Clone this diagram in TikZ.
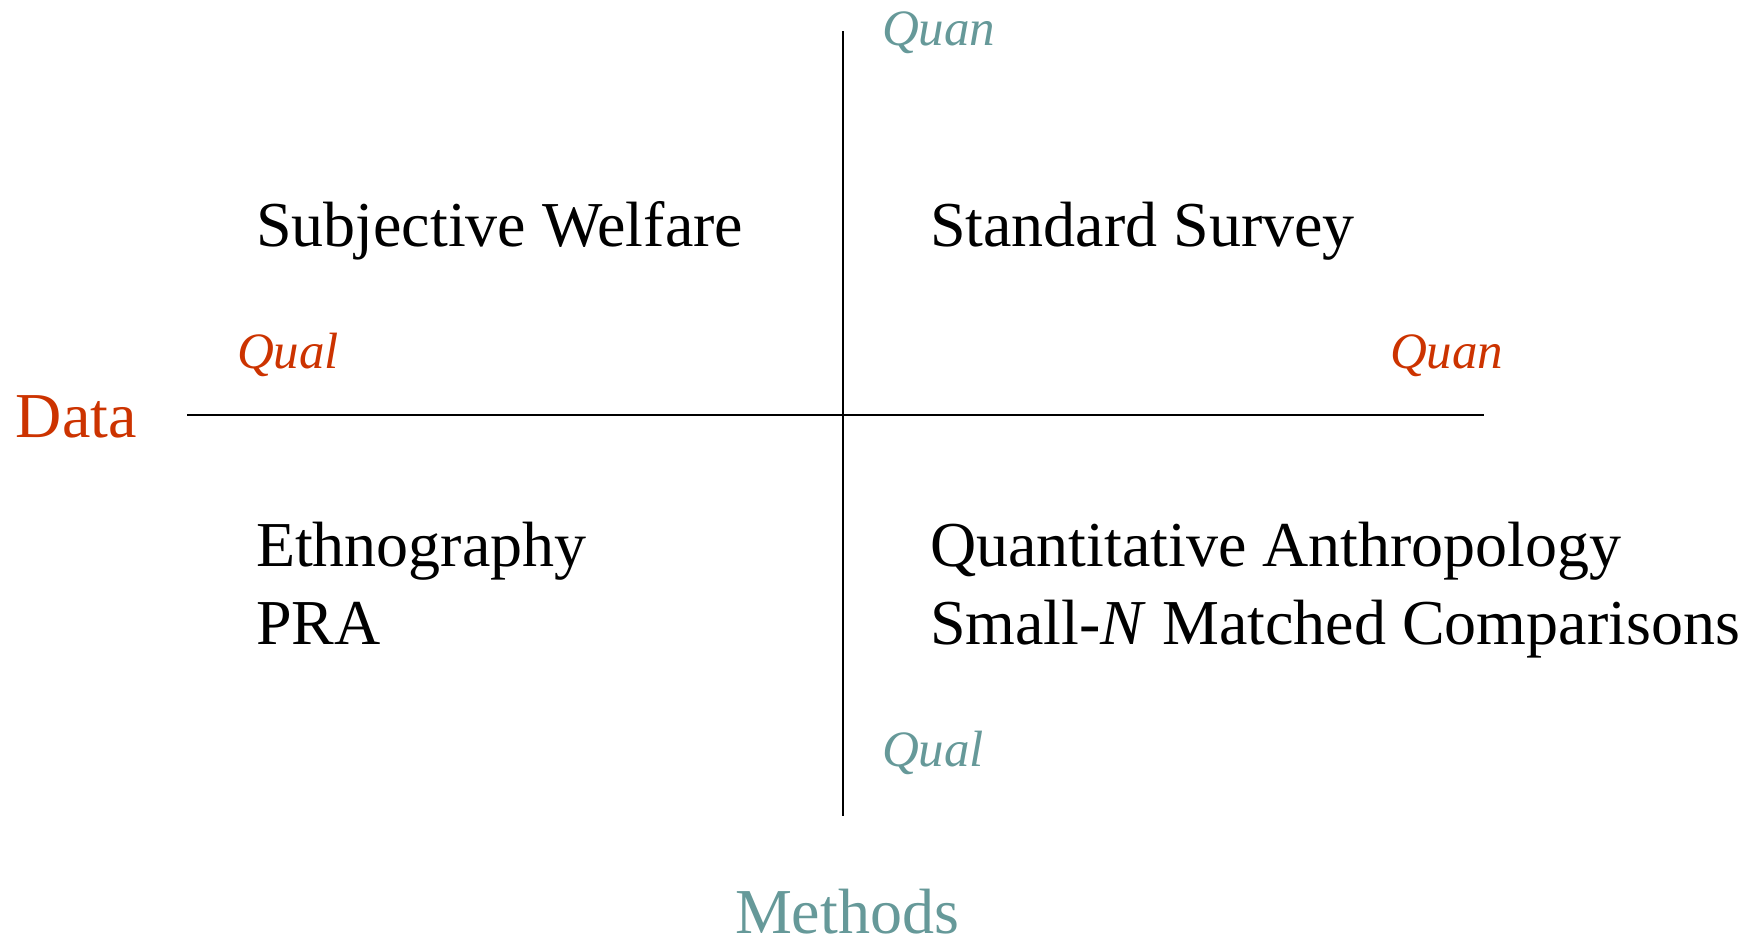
\documentclass[tikz,border=0pt]{standalone}
\usepackage{fontspec}
\setmainfont{Liberation Serif}
\definecolor{datared}{HTML}{CC3300}
\definecolor{methteal}{HTML}{669999}
\begin{document}
\begin{tikzpicture}[x=1pt,y=-1pt,
  lbl/.style={inner sep=0pt,outer sep=0pt,anchor=base west},
  big/.style={lbl,font=\fontsize{64}{78}\selectfont},
  axisname/.style={big},
  pole/.style={lbl,font=\fontsize{51}{60}\selectfont\itshape},
  axisline/.style={draw=black,line width=2.2pt}]
\useasboundingbox (0,0) rectangle (1754,938);
% axes
\coordinate (vtop) at (843,31);
\coordinate (vbot) at (843,816);
\coordinate (hleft) at (187,415);
\coordinate (hright) at (1484,415);
\draw[axisline] (vtop) -- (vbot);
\draw[axisline] (hleft) -- (hright);
% axis names
\node[axisname,text=datared] (data) at (16,437) {Data};
\node[axisname,text=methteal] (methods) at (735,933) {Methods};
% poles
\node[pole,text=datared] (dqual) at (237,368) {Qual};
\node[pole,text=datared] (dquan) at (1390,368) {Quan};
\node[pole,text=methteal] (mquan) at (882,45) {Quan};
\node[pole,text=methteal] (mqual) at (882,766) {Qual};
% quadrant contents
\node[big] (subj) at (256,246) {Subjective Welfare};
\node[big] (std) at (930,246) {Standard Survey};
\node[big] (ethno) at (256,566) {Ethnography};
\node[big] (pra) at (256,644) {PRA};
\node[big] (quant) at (930,566) {Quantitative Anthropology};
\node[big] (small) at (930,644) {Small-\textit{N} Matched Comparisons};
\end{tikzpicture}
\end{document}
